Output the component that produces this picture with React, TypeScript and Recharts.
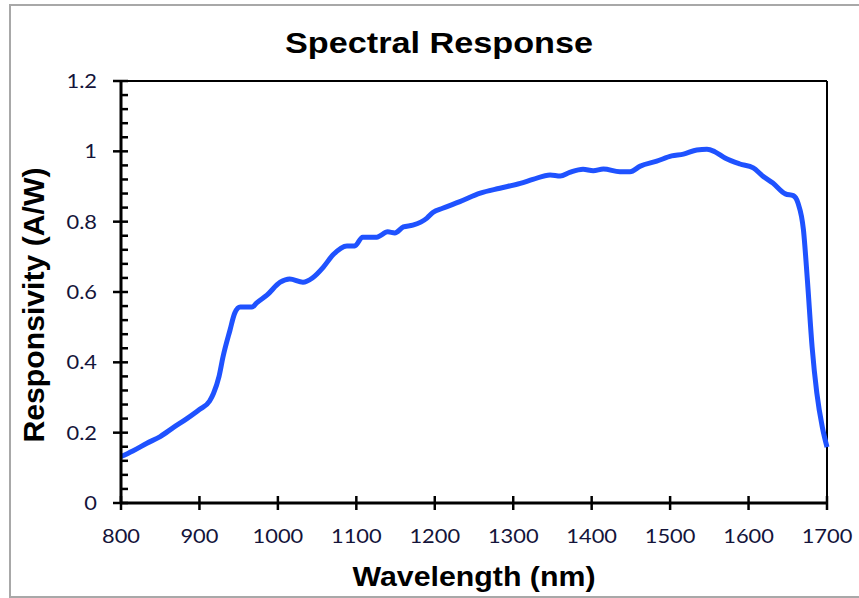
import React from "react";
import { LineChart, Line, XAxis, YAxis, ReferenceLine, Label } from "recharts";

// values
const wavelengths = [
  800, 815, 833, 850, 867, 884, 900, 913, 918, 925, 930, 939, 945, 952, 967, 973, 986,
  1003, 1015, 1032, 1044, 1058, 1070, 1088, 1098, 1108, 1126, 1140, 1149, 1160, 1172,
  1190, 1198, 1210, 1232, 1258, 1283, 1309, 1325, 1347, 1360, 1372, 1389, 1402, 1415,
  1436, 1449, 1462, 1483, 1502, 1517, 1534, 1547, 1557, 1570, 1589, 1606, 1618, 1631,
  1647, 1657, 1663, 1670, 1675, 1681, 1687, 1694, 1700,
];
const responsivity = [
  0.132, 0.148, 0.17, 0.189, 0.215, 0.24, 0.266, 0.29, 0.312, 0.36, 0.415, 0.492, 0.54, 0.557, 0.557, 0.569, 0.591,
  0.628, 0.637, 0.628, 0.64, 0.671, 0.705, 0.731, 0.731, 0.756, 0.756, 0.771, 0.768, 0.785, 0.79,
  0.81, 0.827, 0.838, 0.857, 0.881, 0.895, 0.909, 0.92, 0.933, 0.93, 0.94, 0.949, 0.945, 0.95,
  0.942, 0.942, 0.958, 0.972, 0.987, 0.992, 1.004, 1.006, 0.999, 0.981, 0.964, 0.953, 0.93, 0.91,
  0.879, 0.874, 0.853, 0.776, 0.634, 0.444, 0.313, 0.216, 0.159,
];

const xTicks = [800, 900, 1000, 1100, 1200, 1300, 1400, 1500, 1600, 1700];
const yMajorTicks = [0, 0.2, 0.4, 0.6, 0.8, 1, 1.2];
const yTicks = yMajorTicks.flatMap((t, i) =>
  i === yMajorTicks.length - 1 ? [t] : [0, 1, 2, 3, 4].map((k) => +(t + k * 0.04).toFixed(2))
);

const data = wavelengths.map((w, i) => ({ w, r: responsivity[i] }));

const tickFont = "Lato, 'Open Sans', sans-serif";
const titleFont = "'Liberation Sans', Arial, sans-serif";

function isMajor(v: number) {
  return Math.abs(v * 5 - Math.round(v * 5)) < 1e-6;
}

function YTick({ x, y, payload }: any) {
  const v = payload.value as number;
  const major = isMajor(v);
  return (
    <g>
      <line x1={major ? x - 8 : x} x2={x + 7} y1={y} y2={y} stroke="#000" strokeWidth={2.5} />
      {major && (
        <text
          transform={`translate(${x - 24},${y + 7}) scale(1.15,1)`}
          textAnchor="end"
          fontFamily={tickFont}
          fontSize={19}
          fill="#14143a"
        >
          {String(v)}
        </text>
      )}
    </g>
  );
}

function XTick({ x, y, payload }: any) {
  return (
    <g>
      <line x1={x} x2={x} y1={y - 7} y2={y + 7} stroke="#000" strokeWidth={2.5} />
      <text
        transform={`translate(${x},${y + 40}) scale(1.15,1)`}
        textAnchor="middle"
        fontFamily={tickFont}
        fontSize={19}
        fill="#14143a"
      >
        {payload.value}
      </text>
    </g>
  );
}

export default function App() {
  return (
    <div style={{ position: "absolute", left: 0, top: 0, width: 859, height: 598, overflow: "hidden", background: "#fff" }}>
      <div
        style={{
          position: "absolute",
          left: 9,
          top: 4,
          width: 900,
          height: 590,
          border: "2px solid #a8a8a8",
        }}
      />
      <LineChart width={859} height={598} data={data} margin={{ top: 81, right: 32, bottom: 94, left: 120 }}>
        <XAxis
          dataKey="w"
          type="number"
          domain={[800, 1700]}
          ticks={xTicks}
          interval={0}
          height={1}
          tickSize={0}
          tickMargin={0}
          tickLine={false}
          axisLine={{ stroke: "#000", strokeWidth: 3 }}
          tick={<XTick />}
        >
          <Label
            content={() => (
              <text
                x={474}
                y={586}
                textAnchor="middle"
                fontFamily={titleFont}
                fontWeight="bold"
                fontSize={27}
                textLength={243}
                lengthAdjust="spacingAndGlyphs"
                fill="#000"
              >
                Wavelength (nm)
              </text>
            )}
          />
        </XAxis>
        <YAxis
          type="number"
          domain={[0, 1.2]}
          ticks={yTicks}
          interval={0}
          width={1}
          tickSize={0}
          tickMargin={0}
          tickLine={false}
          axisLine={{ stroke: "#000", strokeWidth: 3 }}
          tick={<YTick />}
        >
          <Label
            content={() => (
              <text
                transform="translate(44,305) rotate(-90)"
                x={0}
                y={0}
                textAnchor="middle"
                fontFamily={titleFont}
                fontWeight="bold"
                fontSize={29}
                textLength={275}
                lengthAdjust="spacingAndGlyphs"
                fill="#000"
              >
                Responsivity (A/W)
              </text>
            )}
          />
        </YAxis>
        <ReferenceLine y={1.2} stroke="#000" strokeWidth={2} />
        <ReferenceLine x={1700} stroke="#000" strokeWidth={2} />
        <Line
          type="monotone"
          dataKey="r"
          stroke="#1f52ff"
          strokeWidth={5}
          dot={false}
          isAnimationActive={false}
        />
      </LineChart>
      <svg width={859} height={70} style={{ position: "absolute", left: 0, top: 0, pointerEvents: "none" }}>
        <text
          x={439}
          y={53}
          textAnchor="middle"
          fontFamily={titleFont}
          fontWeight="bold"
          fontSize={30}
          textLength={308}
          lengthAdjust="spacingAndGlyphs"
          fill="#000"
        >
          Spectral Response
        </text>
      </svg>
    </div>
  );
}
